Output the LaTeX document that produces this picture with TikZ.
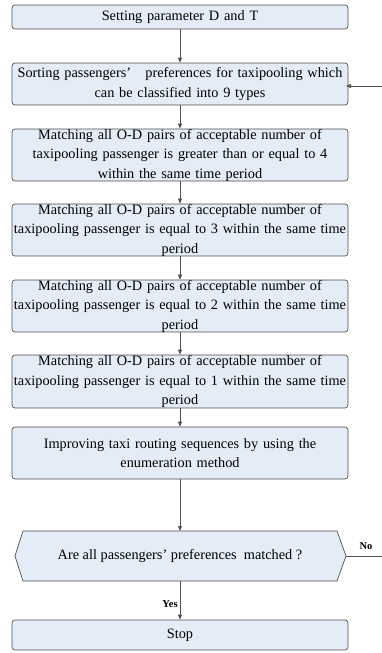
\documentclass[tikz,border=0pt]{standalone}
\usepackage{fontspec}
\setmainfont{Liberation Serif}
\usetikzlibrary{arrows.meta}
\definecolor{boxfill}{RGB}{228,236,247}
\definecolor{boxline}{RGB}{80,80,80}
\tikzset{
  stepbox/.style={draw=boxline, fill=boxfill, rounded corners=3pt, line width=0.7pt,
    minimum width=332pt, text width=336pt, align=center, inner sep=0pt,
    font=\fontsize{14.3}{19.5}\selectfont},
  link/.style={draw=boxline, line width=0.7pt, -{Triangle[length=5pt,width=4pt]}},
  lbl/.style={font=\fontsize{10.5}{12}\selectfont\bfseries, inner sep=0pt}
}
\begin{document}
\begin{tikzpicture}[x=1pt,y=-1pt]
\useasboundingbox (0,0) rectangle (381,653);
\node[stepbox, minimum height=24pt] (b1) at (180,17) {Setting parameter D and T};
\node[stepbox, minimum height=42pt] (b2) at (180,84) {Sorting passengers'\quad preferences for taxipooling which\\can be classified into 9 types};
\node[stepbox, minimum height=50pt] (b3) at (180,155) {Matching all O-D pairs of acceptable number of\\taxipooling passenger is greater than or equal to 4\\within the same time period};
\node[stepbox, minimum height=50pt] (b4) at (180,230) {Matching all O-D pairs of acceptable number of\\taxipooling passenger is equal to 3 within the same time\\period};
\node[stepbox, minimum height=52pt] (b5) at (180,306) {Matching all O-D pairs of acceptable number of\\taxipooling passenger is equal to 2 within the same time\\period};
\node[stepbox, minimum height=53pt] (b6) at (180,381.5) {Matching all O-D pairs of acceptable number of\\taxipooling passenger is equal to 1 within the same time\\period};
\node[stepbox, minimum height=52pt] (b7) at (180,453) {Improving taxi routing sequences by using the\\enumeration method};
% hexagon decision
\coordinate (hL) at (15,556);
\coordinate (hR) at (346,556);
\coordinate (hT) at (180,531);
\coordinate (hB) at (180,581);
\draw[draw=boxline, fill=boxfill, line width=0.7pt] (hL) -- (23,531) -- (337,531) -- (hR) -- (337,581) -- (23,581) -- cycle;
\node[font=\fontsize{14.3}{16}\selectfont, inner sep=0pt] (hex) at (180,556) {Are all passengers' preferences\ \ matched ?};
\node[stepbox, minimum height=30pt] (b8) at (180,635) {Stop};
% connectors
\draw[link] (b1) -- (b2);
\draw[link] (b2) -- (b3);
\draw[link] (b3) -- (b4);
\draw[link] (b4) -- (b5);
\draw[link] (b5) -- (b6);
\draw[link] (b6) -- (b7);
\draw[link] (b7) -- (hT);
\draw[link] (hB) -- node[lbl, left=2pt, pos=0.6] (yes) {Yes} (b8);
\coordinate (c1) at (395,556);
\coordinate (c2) at (395,86);
\coordinate (b2r) at (346,86);
\draw[link] (hR) -- (c1) -- (c2) -- (b2r);
\node[lbl] (no) at (366,546) {No};
\end{tikzpicture}
\end{document}
